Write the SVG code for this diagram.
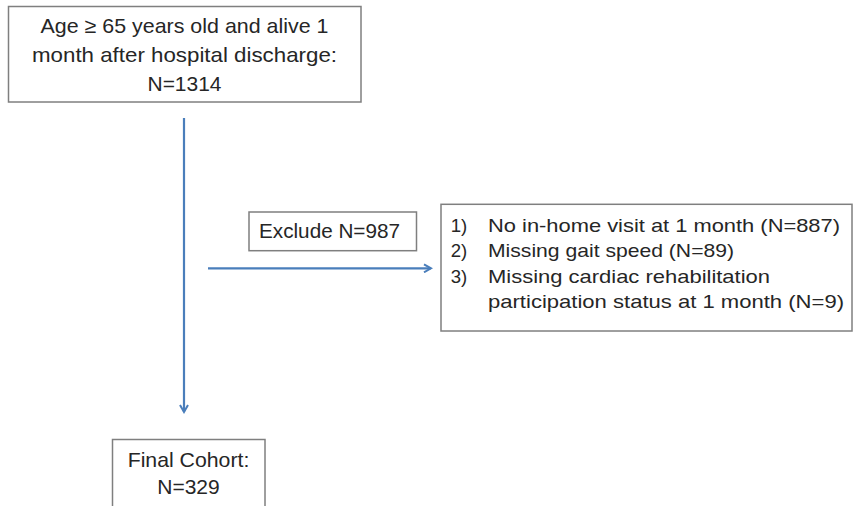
<svg xmlns="http://www.w3.org/2000/svg" width="853" height="506" viewBox="0 0 853 506">
<style>
.box{fill:#ffffff;stroke:#7f7f7f;stroke-width:1.5}
.t{font-family:"Liberation Sans",Arial,sans-serif;font-size:21px;fill:#262626}
.ts{font-family:"Liberation Sans",Arial,sans-serif;font-size:18.6px;fill:#262626}
.c{text-anchor:middle}
.conn{stroke:#4a7ebb;stroke-width:2.2;fill:none}
</style>
<defs>
<marker id="arr" markerWidth="10" markerHeight="10" refX="8" refY="5" orient="auto" markerUnits="userSpaceOnUse" viewBox="0 0 10 10">
<polyline points="1,1 8,5 1,9" fill="none" stroke="#4a7ebb" stroke-width="2"/>
</marker>
</defs>
<rect width="853" height="506" fill="#ffffff"/>
<g id="connectors">
<line class="conn" x1="184" y1="118" x2="184" y2="412" marker-end="url(#arr)"/>
<line class="conn" x1="208" y1="268.3" x2="431" y2="268.3" marker-end="url(#arr)"/>
</g>
<g id="node-start">
<rect class="box" x="8.5" y="6.5" width="352.5" height="95.5"/>
<text class="t c" x="184.5" y="32.7" textLength="288" lengthAdjust="spacingAndGlyphs">Age ≥ 65 years old and alive 1</text>
<text class="t c" x="184.5" y="61.7" textLength="305" lengthAdjust="spacingAndGlyphs">month after hospital discharge:</text>
<text class="t c" x="184.5" y="91" textLength="74" lengthAdjust="spacingAndGlyphs">N=1314</text>
</g>
<g id="node-exclude">
<rect class="box" x="249" y="212" width="167.5" height="38.7"/>
<text class="t" x="259" y="238.3" textLength="141" lengthAdjust="spacingAndGlyphs">Exclude N=987</text>
</g>
<g id="node-reasons">
<rect class="box" x="441" y="204.3" width="411" height="126.7"/>
<text class="ts" x="450.7" y="231.5">1)</text>
<text class="ts" x="488" y="231.5" textLength="352" lengthAdjust="spacingAndGlyphs">No in-home visit at 1 month (N=887)</text>
<text class="ts" x="450.7" y="257">2)</text>
<text class="ts" x="488" y="257" textLength="246" lengthAdjust="spacingAndGlyphs">Missing gait speed (N=89)</text>
<text class="ts" x="450.7" y="282.5">3)</text>
<text class="ts" x="488" y="282.5" textLength="282" lengthAdjust="spacingAndGlyphs">Missing cardiac rehabilitation</text>
<text class="ts" x="488" y="308" textLength="356" lengthAdjust="spacingAndGlyphs">participation status at 1 month (N=9)</text>
</g>
<g id="node-final">
<rect class="box" x="112.5" y="439.5" width="152.5" height="80"/>
<text class="t c" x="188.5" y="467" textLength="121.7" lengthAdjust="spacingAndGlyphs">Final Cohort:</text>
<text class="t c" x="188.5" y="494">N=329</text>
</g>
</svg>
